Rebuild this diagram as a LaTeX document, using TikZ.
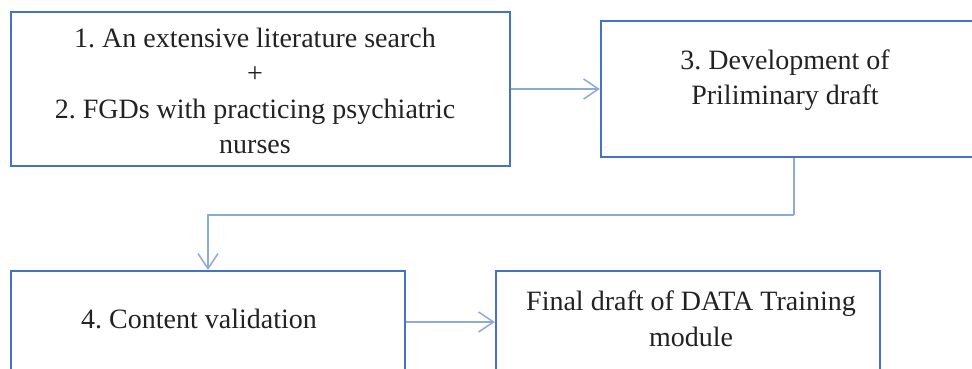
\documentclass[tikz,border=0pt]{standalone}
\usepackage{fontspec}
\setmainfont{Liberation Serif}
\usetikzlibrary{arrows.meta}
\definecolor{boxblue}{HTML}{4472C4}
\definecolor{arrblue}{HTML}{8EAADB}
\definecolor{txtgray}{HTML}{222222}
\frenchspacing
\tikzset{
  box/.style={draw=boxblue, line width=2.2pt, rectangle, inner sep=0pt},
  txt/.style={text=txtgray, align=center, font=\fontsize{28}{35.5}\selectfont, inner sep=0pt},
  conn/.style={draw=arrblue, line width=1.5pt, -{Straight Barb[length=15pt,width=20pt,line width=1.5pt]}},
  line/.style={draw=arrblue, line width=1.5pt}
}
\begin{document}
\begin{tikzpicture}[x=1pt,y=1pt]
\useasboundingbox (0,0) rectangle (972,-368);
\clip (0,0) rectangle (972,-368);
% boxes
\node[box, minimum width=499pt, minimum height=154pt] (b1) at (260.5,-89) {};
\node[box, minimum width=374pt, minimum height=136pt] (b3) at (788,-89) {};
\node[box, minimum width=394pt, minimum height=110pt] (b4) at (208,-326) {};
\node[box, minimum width=384pt, minimum height=110pt] (b5) at (688,-326) {};
% texts
\node[txt, anchor=center] (t1) at (255,-91) {1. An extensive literature search\\+\\2. FGDs with practicing psychiatric\\nurses};
\node[txt] (t3) at (785,-80) {3. Development of\\Priliminary draft};
\node[txt] (t4) at (199,-319) {4. Content validation};
\node[txt] (t5) at (691,-319) {Final draft of DATA Training\\module};
% connectors
\coordinate (k1) at (794,-215);
\coordinate (k2) at (0,-322);
\draw[conn] (b1.east) -- (b3.west);
\draw[line] (b3.south -| k1) -- (k1);
\draw[conn] (k1) -| (b4.north);
\draw[conn] (b4.east |- k2) -- (b5.west |- k2);
\end{tikzpicture}
\end{document}
